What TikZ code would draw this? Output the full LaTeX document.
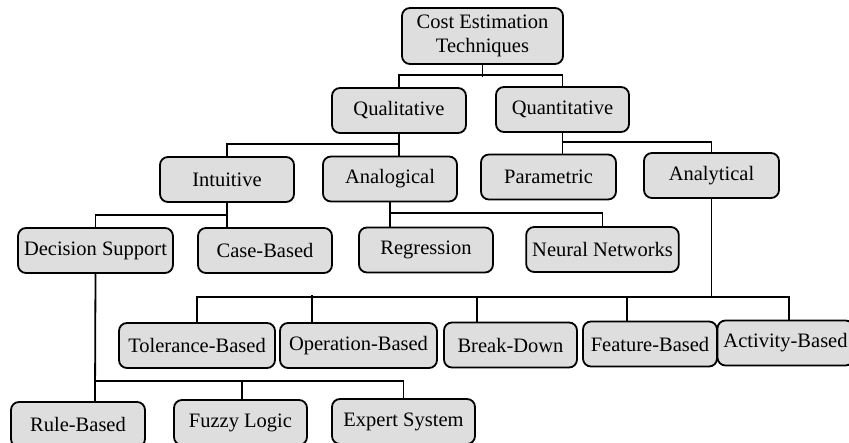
\documentclass[tikz,border=0pt]{standalone}
\usepackage{fontspec}
\setmainfont{Liberation Serif}
\definecolor{boxgray}{gray}{0.87}

\begin{document}
\begin{tikzpicture}[x=1pt,y=-1pt,line width=1.8pt,
  box/.style={draw,fill=boxgray,rounded corners=8pt,minimum width=134pt,
    minimum height=45pt,inner xsep=6pt,align=center,
    font=\fontsize{20.5}{24}\selectfont}]
  \useasboundingbox (0,0) rectangle (849,443);

  \node[box,minimum width=161pt,minimum height=56pt] (root) at (482.5,36) {Cost Estimation\\Techniques};
  \node[box] (qual) at (399,110.5) {Qualitative};
  \node[box,minimum width=133pt] (quan) at (562.5,109.5) {Quantitative};
  \node[box] (intu) at (227,179.5) {Intuitive};
  \node[box] (anal) at (390,179) {Analogical};
  \node[box,minimum width=135pt] (para) at (548.5,177) {Parametric};
  \node[box,minimum width=135pt] (anly) at (711.5,175.5) {Analytical};
  \node[box,minimum width=153pt] (deci) at (95.5,250.5) {Decision Support};
  \node[box] (case) at (265,250.5) {Case-Based};
  \node[box] (regr) at (426,250) {Regression};
  \node[box,minimum width=151pt] (neur) at (602.5,249.5) {Neural Networks};
  \node[box,minimum width=156pt] (tole) at (197,345.5) {Tolerance-Based};
  \node[box,minimum width=157pt] (oper) at (358.5,345.5) {Operation-Based};
  \node[box,minimum width=133pt] (brea) at (510.5,345) {Break-Down};
  \node[box] (feat) at (650,344) {Feature-Based};
  \node[box,minimum width=130pt] (acti) at (785.5,343) {Activity-Based};
  \node[box] (rule) at (78,424.5) {Rule-Based};
  \node[box,minimum width=133pt] (fuzz) at (240.5,422.5) {Fuzzy Logic};
  \node[box,minimum width=143pt] (expe) at (403.5,421.5) {Expert System};

  % tree lines
  \draw (root.south) -- ++(0,12);
  \draw (qual.north) -- ++(0,-12) -| (quan.north);
  \draw (qual.south) -- (qual.south |- anal.north);
  \draw (intu.north) -- ++(0,-12) -| (qual.south);
  \draw (quan.south) -- (quan.south |- para.north);
  \draw (anly.north) -- ++(0,-10) -| (quan.south);
  \draw (intu.south) -- (intu.south |- case.north);
  \draw (deci.north) -- ++(0,-12) -| (intu.south);
  \draw (anal.south) -- (anal.south |- regr.north);
  \draw (neur.north) -- ++(0,-13) -| (anal.south);

  \draw (anly.south) -- ++(0,98) coordinate (abar);
  \draw (tole.north) |- (abar) -| ([xshift=3.5pt]acti.north);
  \draw ([xshift=-46.5pt]oper.north) -- ++(0,-27);
  \draw ([xshift=-33.5pt]brea.north) -- ++(0,-26);
  \draw ([xshift=-23pt]feat.north) -- ++(0,-25);

  \draw (deci.south) -- ([xshift=17pt]rule.north);
  \draw (expe.north) -- ++(0,-17) coordinate (dbar) -| (deci.south);
  \draw ([xshift=1.5pt]fuzz.north) -- ([xshift=1.5pt]fuzz.north |- dbar);
\end{tikzpicture}
\end{document}
